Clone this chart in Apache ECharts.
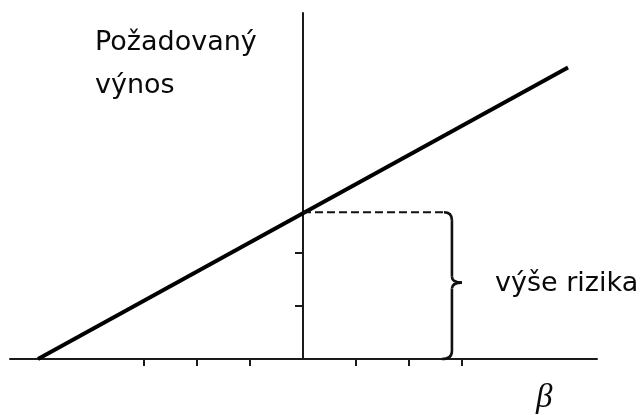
<!DOCTYPE html>
<html>
<head>
<meta charset="utf-8">
<script src="https://cdn.jsdelivr.net/npm/echarts@6/dist/echarts.min.js"></script>
<style>
html,body{margin:0;padding:0;background:#fff;}
#chart{width:643px;height:415px;}
</style>
</head>
<body>
<div id="chart"></div>
<script>
// ---- data ----
var sml = [[-5.0, 0], [5.0, 5.5]];          // required return line (beta, return)
var riskLevel = 2.77;                         // return at beta = 0 (intercept)
var dashedLine = [[0, riskLevel], [2.68, riskLevel]];
var bracket = [[2.81, riskLevel, 0]];         // x, top, bottom
var xTicks = [-3, -2, -1, 1, 2, 3];
var yTicks = [1, 2];
var yLabel = 'Požadovaný\nvýnos';
var riskLabel = 'výše rizika';
var xLabel = 'β';

var chart = echarts.init(document.getElementById('chart'), null, {renderer: 'canvas'});

var axisColor = '#1a1a1a';

var option = {
  animation: false,
  backgroundColor: '#fff',
  grid: {left: 10, right: 46, top: 13, bottom: 56, containLabel: false},
  xAxis: {
    type: 'value', min: -5.528, max: 5.547,
    splitLine: {show: false},
    axisLabel: {show: false},
    axisLine: {show: true, onZero: true, lineStyle: {color: axisColor, width: 2}},
    axisTick: {show: true, customValues: xTicks, length: 7, lineStyle: {color: axisColor, width: 2}}
  },
  yAxis: {
    type: 'value', min: 0, max: 6.528,
    splitLine: {show: false},
    axisLabel: {show: false},
    axisLine: {show: true, onZero: true, lineStyle: {color: axisColor, width: 2}},
    axisTick: {show: true, customValues: yTicks, length: 8, lineStyle: {color: axisColor, width: 2}}
  },
  series: [
    {
      type: 'line', data: sml, symbol: 'none',
      lineStyle: {color: '#000', width: 4}
    },
    {
      type: 'line', data: dashedLine, symbol: 'none',
      lineStyle: {color: '#111', width: 2, type: [8, 4]}
    },
    {
      type: 'custom',
      data: bracket,
      renderItem: function (params, api) {
        var top = api.coord([api.value(0), api.value(1)]);
        var bot = api.coord([api.value(0), api.value(2)]);
        var xb = top[0], yt = top[1], yb = bot[1];
        var ym = (yt + yb) / 2 - 3;
        var st = {stroke: '#111', lineWidth: 2.6, fill: null};
        return {
          type: 'group',
          children: [
            {type: 'bezierCurve', shape: {x1: xb - 8, y1: yt, cpx1: xb, cpy1: yt, x2: xb, y2: yt + 8}, style: st},
            {type: 'line', shape: {x1: xb, y1: yt + 8, x2: xb, y2: ym - 6}, style: st},
            {type: 'bezierCurve', shape: {x1: xb, y1: ym - 6, cpx1: xb, cpy1: ym, x2: xb + 10, y2: ym}, style: st},
            {type: 'bezierCurve', shape: {x1: xb + 10, y1: ym, cpx1: xb, cpy1: ym, x2: xb, y2: ym + 6}, style: st},
            {type: 'line', shape: {x1: xb, y1: ym + 6, x2: xb, y2: yb - 8}, style: st},
            {type: 'bezierCurve', shape: {x1: xb, y1: yb - 8, cpx1: xb, cpy1: yb, x2: xb - 10, y2: yb}, style: st}
          ]
        };
      }
    }
  ],
  graphic: [
    {type: 'text', left: 95, top: 29, style: {text: yLabel.split('\n')[0], fill: '#0a0a0a', font: '27px "DejaVu Sans"'}},
    {type: 'text', left: 95, top: 72, style: {text: yLabel.split('\n')[1], fill: '#0a0a0a', font: '27px "DejaVu Sans"'}},
    {type: 'text', left: 495, top: 270, style: {text: riskLabel, fill: '#0a0a0a', font: '27px "DejaVu Sans"'}},
    {type: 'text', left: 536, top: 382, style: {text: xLabel, fill: '#0a0a0a', font: 'italic 33px "Liberation Serif"'}}
  ]
};
chart.setOption(option);
</script>
</body>
</html>
